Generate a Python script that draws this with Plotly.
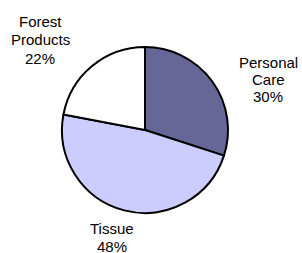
import plotly.graph_objects as go

# ---- data ----
categories = ["Personal Care", "Tissue", "Forest Products"]
values = [30, 48, 22]
label_lines = [["Personal", "Care"], ["Tissue"], ["Forest", "Products"]]

# ---- styling / layout ----
W, H = 302, 253
colors = ["#666699", "#CCCCFF", "#FFFFFF"]
cx, cy, r = 145, 130, 83  # pixel center / radius of pie

# label anchor: (x center, y of first line middle, line spacing) in pixels
label_pos = [(268, 62, 17), (112, 228, 18), (40, 22, 18)]

fig = go.Figure(go.Pie(
    labels=categories,
    values=values,
    sort=False,
    direction="clockwise",
    rotation=0,
    textinfo="none",
    hoverinfo="label+percent",
    marker=dict(colors=colors, line=dict(color="#000000", width=2)),
    domain=dict(x=[(cx - r) / W, (cx + r) / W],
                y=[(H - cy - r) / H, (H - cy + r) / H]),
    showlegend=False,
))

total = sum(values)
for lines, v, (px, py, sp) in zip(label_lines, values, label_pos):
    all_lines = lines + [f"{round(100 * v / total)}%"]
    for i, t in enumerate(all_lines):
        fig.add_annotation(
            x=px / W, y=1 - (py + i * sp) / H,
            xref="paper", yref="paper",
            text=t, showarrow=False,
            xanchor="center", yanchor="middle",
            font=dict(family="Liberation Sans, Arial, sans-serif", size=15, color="#000000"),
        )

fig.update_layout(
    width=W, height=H,
    margin=dict(l=0, r=0, t=0, b=0),
    paper_bgcolor="#FFFFFF",
    plot_bgcolor="#FFFFFF",
)

fig.write_html(
    "out.html",
    config={"displayModeBar": False},
    post_script="document.body.style.margin='0';document.body.style.overflow='hidden';",
)
